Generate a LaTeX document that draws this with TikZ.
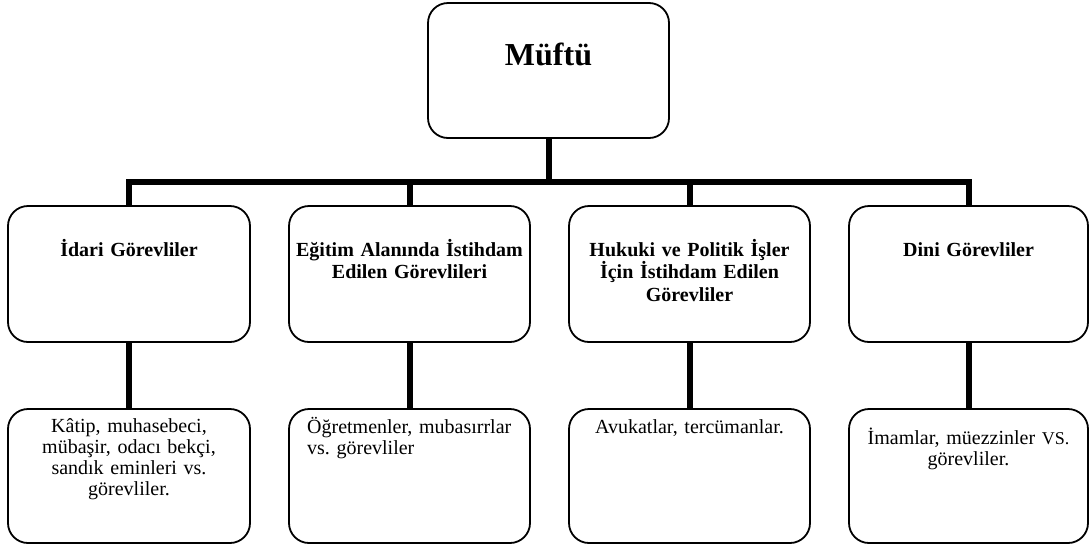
\documentclass[tikz,border=0pt]{standalone}
\usepackage{fontspec}
\setmainfont{Liberation Serif}
\frenchspacing
\begin{document}
\begin{tikzpicture}[x=1pt,y=-1pt,
  box/.style={draw, line width=1.8pt, rounded corners=20pt, inner sep=0pt, outer sep=0pt},
  conn/.style={line width=6pt},
  head/.style={font=\bfseries\fontsize{20}{22.5}\selectfont, align=center, text width=236pt, inner sep=0pt},
  body/.style={font=\fontsize{20}{21}\selectfont, align=center, text width=236pt, inner sep=0pt},
  bodyl/.style={font=\fontsize{20}{21}\selectfont, align=left, text width=226pt, inner sep=0pt}]
\useasboundingbox (0,0) rectangle (1089,547);
% top
\node[box, minimum width=241pt, minimum height=135pt] (top) at (548.5,70.5) {};
\node[font=\bfseries\fontsize{32}{36}\selectfont, anchor=base, inner sep=0pt] (ttop) at (548.5,65) {Müftü};
% row 2
\node[box, minimum width=242pt, minimum height=136pt] (a1) at (129,274) {};
\node[box, minimum width=241pt, minimum height=136pt] (a2) at (409.5,274) {};
\node[box, minimum width=241pt, minimum height=136pt] (a3) at (689.5,274) {};
\node[box, minimum width=239pt, minimum height=136pt] (a4) at (968.5,274) {};
\node[head, anchor=base] (ta1) at (129,256) {İdari Görevliler};
\node[head, anchor=base] (ta2) at (409.5,256) {Eğitim Alanında İstihdam\\Edilen Görevlileri};
\node[head, anchor=base] (ta3) at (689.5,256) {Hukuki ve Politik İşler\\İçin İstihdam Edilen\\Görevliler};
\node[head, anchor=base] (ta4) at (968.5,256) {Dini Görevliler};
% row 3
\node[box, minimum width=242pt, minimum height=134pt] (b1) at (129,476) {};
\node[box, minimum width=241pt, minimum height=134pt] (b2) at (409.5,476) {};
\node[box, minimum width=241pt, minimum height=134pt] (b3) at (689.5,476) {};
\node[box, minimum width=239pt, minimum height=134pt] (b4) at (968.5,476) {};
\node[body, anchor=base] (tb1) at (129,432) {Kâtip, muhasebeci,\\mübaşir, odacı bekçi,\\sandık eminleri vs.\\görevliler.};
\node[bodyl, anchor=base west] (tb2) at (307,433) {Öğretmenler, mubasırrlar\\vs. görevliler};
\node[body, anchor=base] (tb3) at (689.5,433) {Avukatlar, tercümanlar.};
\node[body, anchor=base] (tb4) at (968.5,444) {İmamlar, müezzinler {\fontsize{18}{21}\selectfont VS.}\\görevliler.};
% connectors
\coordinate (bar) at (548.5,182);
\draw[conn] (top.south) -- (top.south |- bar);
\draw[conn, line join=miter] (a1.north) -- (a1.north |- bar) -- (a4.north |- bar) -- (a4.north);
\draw[conn] (a2.north |- bar) -- (a2.north);
\draw[conn] (a3.north |- bar) -- (a3.north);
\draw[conn] (a1.south) -- (b1.north);
\draw[conn] (a2.south) -- (b2.north);
\draw[conn] (a3.south) -- (b3.north);
\draw[conn] (a4.south) -- (b4.north);
\end{tikzpicture}
\end{document}
